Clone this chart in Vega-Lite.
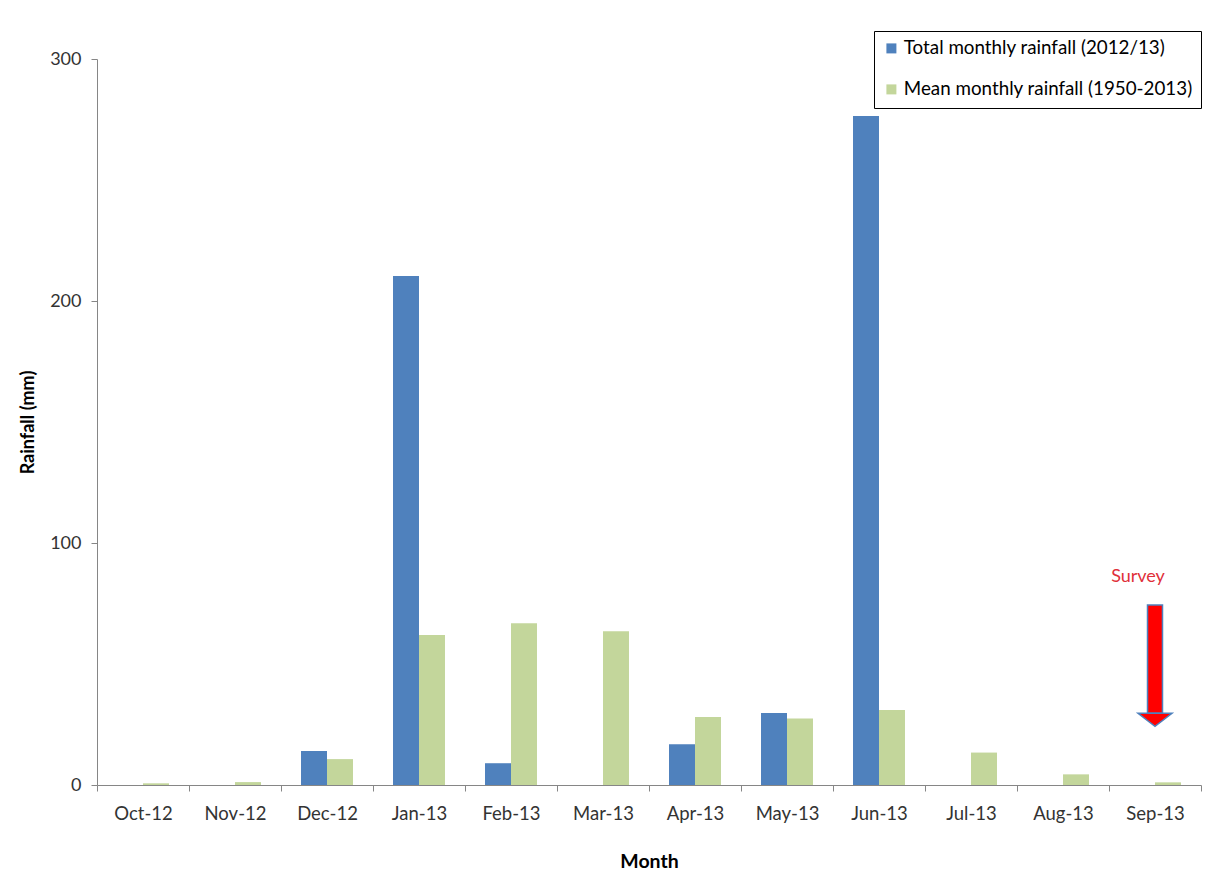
{
  "$schema": "https://vega.github.io/schema/vega-lite/v6.json",
  "autosize": {"type": "none"},
  "width": 1104,
  "height": 726,
  "padding": {"left": 97, "top": 59, "right": 5, "bottom": 93},
  "background": "white",
  "datasets": {
    "rain": [
      {"Month": "Oct-12", "series": "Total monthly rainfall (2012/13)", "value": 0},
      {"Month": "Oct-12", "series": "Mean monthly rainfall (1950-2013)", "value": 0.7},
      {"Month": "Nov-12", "series": "Total monthly rainfall (2012/13)", "value": 0},
      {"Month": "Nov-12", "series": "Mean monthly rainfall (1950-2013)", "value": 1.2},
      {"Month": "Dec-12", "series": "Total monthly rainfall (2012/13)", "value": 14.0},
      {"Month": "Dec-12", "series": "Mean monthly rainfall (1950-2013)", "value": 10.7},
      {"Month": "Jan-13", "series": "Total monthly rainfall (2012/13)", "value": 210.3},
      {"Month": "Jan-13", "series": "Mean monthly rainfall (1950-2013)", "value": 62.0},
      {"Month": "Feb-13", "series": "Total monthly rainfall (2012/13)", "value": 9.0},
      {"Month": "Feb-13", "series": "Mean monthly rainfall (1950-2013)", "value": 66.8},
      {"Month": "Mar-13", "series": "Total monthly rainfall (2012/13)", "value": 0},
      {"Month": "Mar-13", "series": "Mean monthly rainfall (1950-2013)", "value": 63.5},
      {"Month": "Apr-13", "series": "Total monthly rainfall (2012/13)", "value": 16.8},
      {"Month": "Apr-13", "series": "Mean monthly rainfall (1950-2013)", "value": 28.1},
      {"Month": "May-13", "series": "Total monthly rainfall (2012/13)", "value": 29.8},
      {"Month": "May-13", "series": "Mean monthly rainfall (1950-2013)", "value": 27.5},
      {"Month": "Jun-13", "series": "Total monthly rainfall (2012/13)", "value": 276.4},
      {"Month": "Jun-13", "series": "Mean monthly rainfall (1950-2013)", "value": 31.0},
      {"Month": "Jul-13", "series": "Total monthly rainfall (2012/13)", "value": 0},
      {"Month": "Jul-13", "series": "Mean monthly rainfall (1950-2013)", "value": 13.4},
      {"Month": "Aug-13", "series": "Total monthly rainfall (2012/13)", "value": 0},
      {"Month": "Aug-13", "series": "Mean monthly rainfall (1950-2013)", "value": 4.4},
      {"Month": "Sep-13", "series": "Total monthly rainfall (2012/13)", "value": 0},
      {"Month": "Sep-13", "series": "Mean monthly rainfall (1950-2013)", "value": 1.1}
    ],
    "survey": [
      {"Month": "Sep-13", "label": "Survey", "textY": 86, "shaftTop": 74.4, "shaftBottom": 29.6}
    ]
  },
  "encoding": {
    "x": {
      "field": "Month",
      "type": "nominal",
      "sort": ["Oct-12", "Nov-12", "Dec-12", "Jan-13", "Feb-13", "Mar-13", "Apr-13", "May-13", "Jun-13", "Jul-13", "Aug-13", "Sep-13"],
      "scale": {"paddingInner": 0, "paddingOuter": 0},
      "axis": {
        "title": "Month",
        "labelAngle": 0,
        "tickBand": "extent",
        "tickSize": 6,
        "labelFontSize": 18.5,
        "labelPadding": 13,
        "titleFontSize": 19.5,
        "titlePadding": 30
      }
    }
  },
  "layer": [
    {
      "data": {"name": "rain"},
      "mark": {"type": "bar"},
      "encoding": {
        "xOffset": {
          "field": "series",
          "type": "nominal",
          "sort": ["Total monthly rainfall (2012/13)", "Mean monthly rainfall (1950-2013)"],
          "scale": {"paddingInner": 0, "paddingOuter": 0.77}
        },
        "y": {
          "field": "value",
          "type": "quantitative",
          "scale": {"domain": [0, 300], "nice": false},
          "axis": {
            "title": "Rainfall (mm)",
            "values": [0, 100, 200, 300],
            "grid": false,
            "tickSize": 6,
            "labelFontSize": 18,
            "labelPadding": 10,
            "titleFontSize": 18,
            "titlePadding": 12
          }
        },
        "color": {
          "field": "series",
          "type": "nominal",
          "sort": ["Total monthly rainfall (2012/13)", "Mean monthly rainfall (1950-2013)"],
          "scale": {
            "domain": ["Total monthly rainfall (2012/13)", "Mean monthly rainfall (1950-2013)"],
            "range": ["#4f81bd", "#c3d69b"]
          },
          "legend": {
            "title": null,
            "orient": "none",
            "legendX": 777,
            "legendY": -28,
            "strokeColor": "#000000",
            "padding": 8,
            "symbolType": "square",
            "symbolSize": 100,
            "symbolStrokeWidth": 0,
            "labelFontSize": 18.8,
            "labelOffset": 3,
            "labelColor": "#000000",
            "rowPadding": 21,
            "labelLimit": 400
          }
        }
      }
    },
    {
      "data": {"name": "survey"},
      "mark": {"type": "bar", "width": 15, "fill": "#ff0000", "stroke": "#4f81bd", "strokeWidth": 1.5},
      "encoding": {
        "y": {"field": "shaftTop", "type": "quantitative"},
        "y2": {"field": "shaftBottom"}
      }
    },
    {
      "data": {"name": "survey"},
      "mark": {
        "type": "point",
        "shape": "M-1,0L1,0L0,0.76Z",
        "size": 1156,
        "filled": true,
        "fill": "#ff0000",
        "stroke": "#4f81bd",
        "strokeWidth": 1.5,
        "opacity": 1
      },
      "encoding": {
        "y": {"field": "shaftBottom", "type": "quantitative"}
      }
    },
    {
      "data": {"name": "survey"},
      "mark": {"type": "text", "color": "#e0303a", "fontSize": 18, "baseline": "middle", "dx": -17},
      "encoding": {
        "y": {"field": "textY", "type": "quantitative"},
        "text": {"field": "label"}
      }
    }
  ],
  "config": {
    "font": "Lato",
    "view": {"stroke": null},
    "axis": {
      "domainColor": "#868686",
      "tickColor": "#868686",
      "labelColor": "#333333",
      "titleFontWeight": "bold",
      "titleColor": "#000000"
    }
  }
}
